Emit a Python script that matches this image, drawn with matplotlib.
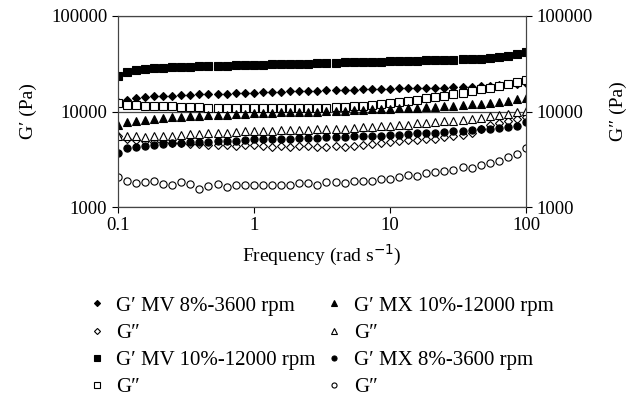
import numpy as np
import matplotlib
matplotlib.use("Agg")
import matplotlib.pyplot as plt

plt.rcParams['font.family'] = ['Liberation Serif', 'DejaVu Serif']

# frequency (rad/s), 15 points per decade from 0.1 to 100
freq = [0.1 * 10 ** (i / 15) for i in range(46)]

mv8_g1 = [12700, 13300, 13800, 14200, 14400, 14600, 14700, 14800, 15000, 15100,
          15200, 15300, 15400, 15500, 15600, 15800, 15900, 16000, 16100, 16200,
          16300, 16400, 16500, 16600, 16700, 16800, 16900, 17000, 17100, 17200,
          17400, 17500, 17500, 17600, 17700, 17700, 17800, 17900, 18000, 18200,
          18400, 18600, 18900, 19200, 19600, 20000]
mv8_g2 = [5500, 5200, 5000, 4900, 4800, 4800, 4700, 4700, 4600, 4600,
          4500, 4500, 4500, 4400, 4500, 4500, 4400, 4300, 4400, 4300,
          4400, 4400, 4300, 4300, 4400, 4300, 4400, 4500, 4600, 4700,
          4800, 4900, 5000, 5000, 5100, 5200, 5400, 5500, 5700, 6000,
          6600, 7200, 7600, 8000, 8300, 8700]
mv10_g1 = [23500, 26000, 27000, 28000, 28300, 28600, 28900, 29200, 29400, 29800,
           30000, 30000, 30200, 30400, 30600, 31000, 30800, 31200, 31400, 31500,
           31600, 31800, 32000, 32200, 32400, 32600, 32800, 33000, 33200, 33200,
           33500, 33700, 33900, 34100, 34300, 34500, 34700, 35000, 35300, 35500,
           35800, 36500, 37500, 38500, 40000, 42000]
mv10_g2 = [12200, 11800, 11600, 11500, 11400, 11300, 11300, 11200, 11100, 11100,
           11000, 11000, 11000, 11000, 10900, 10900, 10900, 10800, 10800, 10900,
           10900, 10900, 11000, 11000, 11100, 11200, 11300, 11500, 11700, 11900,
           12200, 12500, 12800, 13200, 13700, 14200, 14700, 15200, 15800, 16400,
           17000, 17700, 18400, 19200, 20200, 21200]
mx10_g1 = [7300, 7700, 8000, 8200, 8400, 8500, 8700, 8800, 8900, 9000,
           9100, 9200, 9300, 9400, 9500, 9600, 9700, 9700, 9800, 9900,
           9900, 10000, 10000, 10100, 10200, 10200, 10300, 10400, 10500, 10600,
           10700, 10800, 10900, 11000, 11100, 11200, 11300, 11500, 11700, 11900,
           12100, 12400, 12700, 13000, 13400, 13900]
mx10_g2 = [5600, 5500, 5500, 5400, 5500, 5600, 5600, 5700, 5800, 5800,
           5900, 6000, 6000, 6100, 6200, 6300, 6300, 6300, 6400, 6400,
           6400, 6400, 6500, 6500, 6600, 6600, 6700, 6800, 6900, 7000,
           7100, 7200, 7300, 7500, 7600, 7700, 7900, 8000, 8200, 8400,
           8600, 8900, 9200, 9500, 9800, 10200]
mx8_g1 = [3700, 4100, 4300, 4400, 4500, 4600, 4700, 4700, 4800, 4800,
          4800, 4900, 4900, 4900, 5000, 5100, 5100, 5100, 5200, 5200,
          5300, 5300, 5300, 5400, 5400, 5400, 5500, 5500, 5500, 5600,
          5700, 5700, 5800, 5900, 6000, 6000, 6100, 6200, 6300, 6400,
          6500, 6600, 6700, 6800, 7000, 7700]
mx8_g2 = [2080, 1860, 1800, 1830, 1850, 1760, 1720, 1830, 1750, 1530,
          1640, 1760, 1620, 1680, 1720, 1700, 1710, 1690, 1680, 1680,
          1780, 1770, 1720, 1830, 1840, 1790, 1850, 1860, 1890, 1970,
          1960, 2050, 2150, 2120, 2270, 2300, 2400, 2450, 2620, 2560,
          2750, 2900, 3050, 3350, 3600, 4100]

fig = plt.figure(figsize=(6.4, 4.0), dpi=100)
ax = fig.add_axes([0.184, 0.4825, 0.638, 0.4775])

series = [
    (mv8_g1, 'D', 'black', 4.4, "G\u2032 MV 8%-3600 rpm"),
    (mv8_g2, 'D', 'white', 4.4, "G\u2033"),
    (mv10_g1, 's', 'black', 5.2, "G\u2032 MV 10%-12000 rpm"),
    (mv10_g2, 's', 'white', 5.2, "G\u2033"),
    (mx10_g1, '^', 'black', 5.4, "G\u2032 MX 10%-12000 rpm"),
    (mx10_g2, '^', 'white', 5.4, "G\u2033"),
    (mx8_g1, 'o', 'black', 5.2, "G\u2032 MX 8%-3600 rpm"),
    (mx8_g2, 'o', 'white', 5.2, "G\u2033"),
]
handles = []
for vals, mk, fc, ms, lab in series:
    h, = ax.plot(freq, vals, linestyle='none', marker=mk, markersize=ms,
                 markerfacecolor=fc, markeredgecolor='black',
                 markeredgewidth=0.8, label=lab)
    handles.append(h)

ax.set_xscale('log')
ax.set_yscale('log')
ax.set_xlim(0.1, 100)
ax.set_ylim(1000, 100000)
ax.set_xticks([0.1, 1, 10, 100])
ax.set_xticklabels(['0.1', '1', '10', '100'])
ax.set_yticks([1000, 10000, 100000])
ax.set_yticklabels(['1000', '10000', '100000'])
ax.minorticks_off()
ax.grid(axis='y', color='#444444', linewidth=0.9)
ax.tick_params(labelsize=13.5, direction='out', length=4, width=0.8)
for s in ax.spines.values():
    s.set_color('#444444')
ax.set_xlabel("Frequency (rad s$^{-1}$)", fontsize=14, labelpad=6)
ax.set_ylabel("G\u2032 (Pa)", fontsize=14, labelpad=10)

ax2 = ax.twinx()
ax2.set_yscale('log')
ax2.set_ylim(1000, 100000)
ax2.set_yticks([1000, 10000, 100000])
ax2.set_yticklabels(['1000', '10000', '100000'])
ax2.minorticks_off()
ax2.tick_params(labelsize=13.5, direction='out', length=4, width=0.8)
ax2.set_ylabel("G\u2033 (Pa)", fontsize=14, labelpad=12)
for s in ax2.spines.values():
    s.set_color('#444444')

fig.legend(handles=handles, ncol=2, frameon=False, fontsize=15,
           loc='upper left', bbox_to_anchor=(0.115, 0.296),
           markerscale=0.7, handlelength=0.8, handletextpad=0.55,
           columnspacing=0.5, labelspacing=0.36, borderpad=0.2)

fig.savefig('out.png', dpi=100)
